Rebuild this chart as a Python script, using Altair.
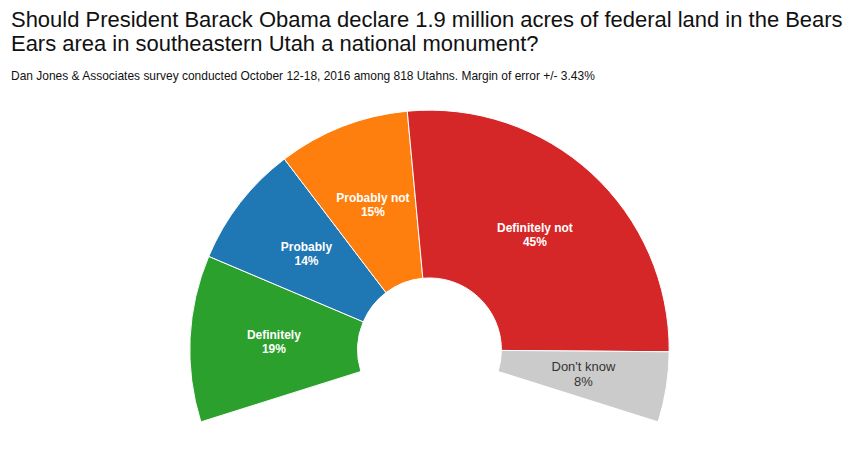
import altair as alt
import pandas as pd

categories = ["Definitely", "Probably", "Probably not", "Definitely not", "Don't know"]
values = [19, 14, 15, 45, 8]
colors = ["#2ca02c", "#1f77b4", "#ff7f0e", "#d62728", "#cbcbcb"]
label_dark = [False, False, False, False, True]

df = pd.DataFrame({
    "answer": categories,
    "pct": values,
    "order": list(range(len(categories))),
    "label": [f"{c}\n{v}%" for c, v in zip(categories, values)],
    "dark": label_dark,
})

CX, CY = 419, 258
SPAN = 1.876
TOTAL = sum(values)

theta_scale = alt.Scale(domain=[0, TOTAL], range=[-SPAN, SPAN])

base = alt.Chart(df).transform_stack(
    stack="pct", groupby=[], as_=["s0", "s1"],
    sort=[alt.SortField("order", order="ascending")],
).transform_calculate(
    mid="(datum.s0 + datum.s1) / 2"
).encode(
    x=alt.value(CX),
    y=alt.value(CY),
)

arcs = base.mark_arc(radius=240, radius2=72, stroke="white", strokeWidth=1).encode(
    theta=alt.Theta("s0:Q", scale=theta_scale),
    theta2="s1:Q",
    color=alt.Color("answer:N", scale=alt.Scale(domain=categories, range=colors), legend=None),
)

text_theta = alt.Theta("mid:Q", scale=theta_scale)

white_labels = base.transform_filter("!datum.dark").mark_text(
    radius=156, fontSize=12, fontWeight="bold", font="Liberation Sans",
    color="white", lineBreak="\n", lineHeight=14, baseline="middle", align="center", dy=-7,
).encode(theta=text_theta, text="label:N")

dark_labels = base.transform_filter("datum.dark").mark_text(
    radius=156, fontSize=13, fontWeight="normal", font="Liberation Sans",
    color="#333333", lineBreak="\n", lineHeight=15, baseline="middle", align="center", dy=-7,
).encode(theta=text_theta, text="label:N")

chart = alt.layer(arcs, white_labels, dark_labels).properties(
    width=835,
    height=355,
    padding={"left": 3, "top": 0, "right": 0, "bottom": 0},
    title=alt.TitleParams(
        text=["Should President Barack Obama declare 1.9 million acres of federal land in the Bears",
              "Ears area in southeastern Utah a national monument?"],
        subtitle="Dan Jones & Associates survey conducted October 12-18, 2016 among 818 Utahns. Margin of error +/- 3.43%",
        anchor="start",
        font="Liberation Sans",
        fontSize=22,
        fontWeight="normal",
        lineHeight=24.5,
        color="#111111",
        subtitleFont="Liberation Sans",
        subtitleFontSize=12,
        subtitleColor="#111111",
        subtitlePadding=15,
        offset=9,
    ),
).configure_view(stroke=None)

chart.save("out.html", embed_options={"renderer": "svg", "actions": False})
